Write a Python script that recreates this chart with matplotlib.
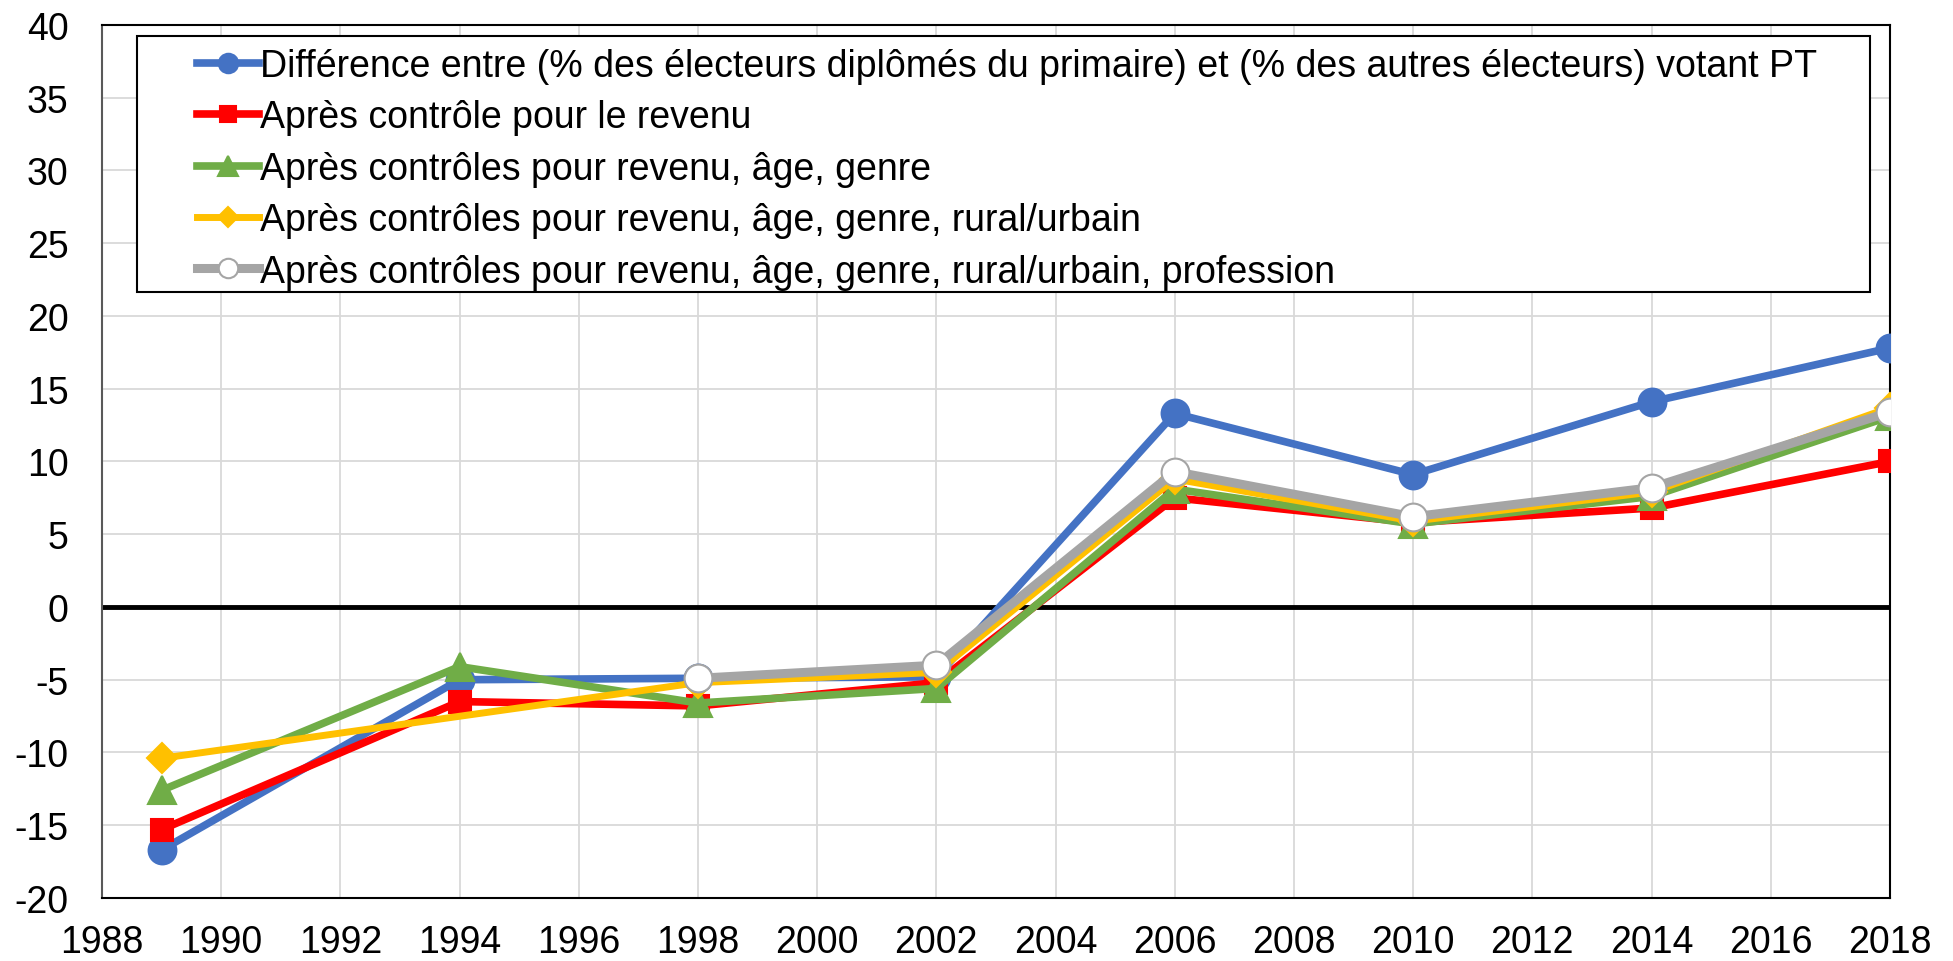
import numpy as np
import matplotlib
matplotlib.use("Agg")
import matplotlib.pyplot as plt
from matplotlib.patches import Rectangle

plt.rcParams["font.family"] = ["Liberation Sans", "DejaVu Sans"]
plt.rcParams["axes.unicode_minus"] = False

YEARS = [1989, 1994, 1998, 2002, 2006, 2010, 2014, 2018]
LABELS = [
    "Différence entre (% des électeurs diplômés du primaire) et (% des autres électeurs) votant PT",
    "Après contrôle pour le revenu",
    "Après contrôles pour revenu, âge, genre",
    "Après contrôles pour revenu, âge, genre, rural/urbain",
    "Après contrôles pour revenu, âge, genre, rural/urbain, profession",
]
RAW = [-16.7, -5.0, -4.9, -4.8, 13.3, 9.1, 14.1, 17.8]
REVENU = [-15.3, -6.5, -6.8, -5.2, 7.5, 5.8, 6.8, 10.0]
AGE_GENRE = [-12.6, -4.1, -6.6, -5.6, 8.1, 5.7, 7.6, 13.1]
RURAL = [-10.4, np.nan, -5.2, -4.5, 8.8, 5.9, 7.9, 13.7]
PROFESSION = [np.nan, np.nan, -4.9, -4.0, 9.3, 6.2, 8.2, 13.4]

SERIES = [RAW, REVENU, AGE_GENRE, RURAL, PROFESSION]
STYLE = [
    dict(color="#4472C4", marker="o", ms=20, mfc="#4472C4", mec="#4472C4", lw=5.5),
    dict(color="#FF0000", marker="s", ms=16, mfc="#FF0000", mec="#FF0000", lw=5.5),
    dict(color="#70AD47", marker="^", ms=20, mfc="#70AD47", mec="#70AD47", lw=5.5),
    dict(color="#FFC000", marker="D", ms=15, mfc="#FFC000", mec="#FFC000", lw=5),
    dict(color="#A5A5A5", marker="o", ms=20, mfc="white", mec="#A5A5A5", lw=6.5),
]

fig = plt.figure(figsize=(19.53, 9.62), dpi=100)
ax = fig.add_axes([0.0522, 0.0655, 0.9155, 0.9075])

x = np.array(YEARS)
for vals, lab, st in zip(SERIES, LABELS, STYLE):
    v = np.array(vals, dtype=float)
    ok = ~np.isnan(v)
    ax.plot(x[ok], v[ok], label=lab, mew=1.5, **st, zorder=3)

ax.axhline(0, color="black", lw=3.5, zorder=2)
ax.set_xlim(1988, 2018)
ax.set_ylim(-20, 40)
ax.set_xticks(range(1988, 2019, 2))
ax.set_yticks(range(-20, 41, 5))
ax.grid(True, color="#d9d9d9", lw=1.3, zorder=0)
ax.set_axisbelow(True)
ax.tick_params(length=0, labelsize=27)
ax.tick_params(axis="x", pad=19)
ax.tick_params(axis="y", pad=24)
for s in ax.spines.values():
    s.set_color("black")
    s.set_linewidth(1.5)
ax.spines["left"].set_color("#595959")

# legend box drawn separately (Excel-style wide left padding)
ax.add_patch(Rectangle((0.0196, 0.6942), 0.9692, 0.2932, transform=ax.transAxes,
                       facecolor="white", edgecolor="black", lw=1.5, zorder=5))
leg = ax.legend(loc="upper left", bbox_to_anchor=(0.053, 0.9735), borderaxespad=0,
                fontsize=27, frameon=False, handlelength=1.65, handletextpad=0.05,
                labelspacing=0.41, borderpad=0, markerscale=0.7)
leg.set_zorder(6)

fig.savefig("out.png", dpi=100)
